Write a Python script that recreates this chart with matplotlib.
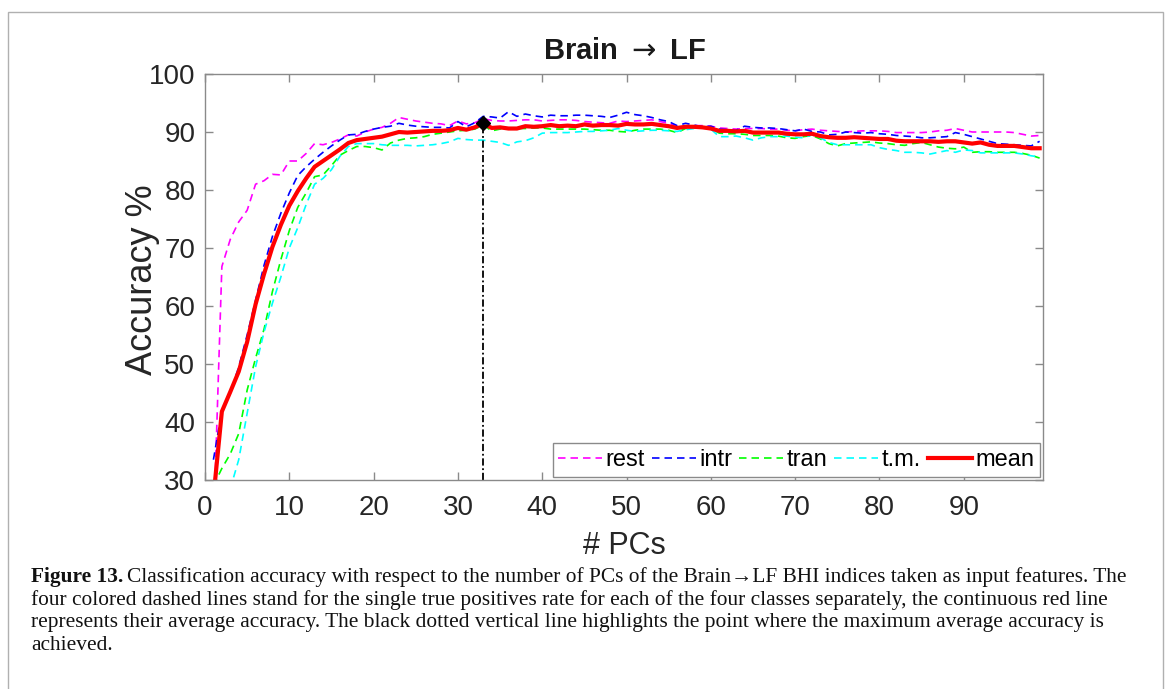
import numpy as np
import matplotlib
matplotlib.use("Agg")
import matplotlib.pyplot as plt
from matplotlib.patches import Rectangle

pcs = list(range(1, 100))

rest = [21.0, 66.8, 71.5, 74.5, 76.5, 81.0, 81.6, 82.7, 82.6, 85.0,
        85.0, 86.3, 88.0, 87.8, 88.2, 88.8, 89.5, 89.3, 90.0, 90.5,
        90.8, 91.5, 92.5, 92.2, 91.9, 91.7, 91.5, 91.4, 91.1, 91.9,
        91.4, 91.6, 92.3, 92.0, 91.9, 91.9, 92.0, 92.1, 92.1, 91.9,
        92.0, 92.1, 92.1, 92.0, 91.8, 91.7, 91.6, 91.5, 91.9, 91.8,
        91.9, 92.0, 92.1, 91.8, 91.5, 90.9, 91.0, 91.1, 91.1, 91.0,
        90.7, 90.6, 90.5, 90.6, 90.6, 90.6, 90.5, 90.5, 90.3, 90.2,
        90.4, 90.5, 90.3, 90.2, 90.1, 90.0, 90.1, 90.2, 90.2, 90.2,
        90.1, 89.9, 89.9, 89.9, 89.9, 90.0, 90.2, 90.3, 90.6, 90.3,
        90.0, 90.0, 90.0, 90.0, 90.0, 89.9, 89.6, 89.3, 89.4]

intr = [33.5, 42.0, 45.0, 49.5, 55.0, 61.0, 67.0, 72.0, 76.0, 79.5,
        82.5, 84.0, 85.3, 86.5, 87.6, 88.6, 89.5, 89.6, 90.1, 90.5,
        90.8, 91.0, 91.5, 91.2, 91.0, 90.9, 90.8, 90.8, 90.7, 91.8,
        90.9, 91.6, 92.7, 92.6, 92.4, 93.5, 92.7, 93.1, 92.8, 92.6,
        92.9, 92.8, 92.8, 92.9, 92.9, 92.8, 92.7, 92.5, 92.9, 93.4,
        93.0, 92.8, 92.5, 92.1, 91.8, 91.1, 91.5, 91.2, 90.9, 91.0,
        90.5, 90.4, 90.3, 91.0, 90.8, 90.7, 90.7, 90.6, 90.4, 90.2,
        90.5, 90.1, 90.0, 89.5, 89.6, 90.0, 89.9, 89.8, 89.9, 89.7,
        89.6, 89.4, 89.3, 89.2, 89.0, 89.0, 89.1, 89.2, 89.9, 89.6,
        89.2, 88.8, 88.4, 88.0, 87.9, 87.8, 87.7, 87.6, 88.4]

tran = [29.0, 32.0, 34.5, 38.0, 45.5, 51.0, 56.0, 62.5, 68.0, 73.0,
        77.0, 79.5, 82.3, 82.6, 84.2, 86.0, 86.8, 87.5, 87.5, 87.3,
        86.9, 88.1, 88.6, 88.9, 89.0, 89.2, 89.6, 89.8, 90.0, 90.2,
        90.3, 90.5, 91.2, 90.2, 90.5, 90.7, 90.6, 90.6, 90.7, 90.7,
        90.5, 90.5, 90.5, 90.5, 90.5, 90.4, 90.3, 90.3, 90.1, 90.0,
        90.3, 90.5, 90.5, 90.5, 90.3, 89.9, 90.6, 90.7, 90.7, 90.6,
        89.8, 89.7, 89.7, 89.6, 89.4, 89.4, 89.4, 89.3, 89.0, 88.9,
        89.2, 89.4, 88.8, 88.0, 87.6, 88.0, 88.1, 88.2, 88.3, 88.1,
        88.0, 87.8, 87.7, 88.0, 88.2, 87.8, 87.4, 87.2, 87.1, 87.4,
        86.5, 86.6, 86.6, 86.5, 86.5, 86.5, 86.3, 86.0, 85.5]

tm = [18.0, 23.0, 28.5, 33.5, 41.5, 49.5, 55.5, 60.5, 65.0, 70.0,
      73.5, 77.5, 81.0, 82.0, 83.5, 85.8, 87.5, 88.0, 88.0, 88.0,
      87.8, 87.7, 87.7, 87.7, 87.6, 87.7, 87.8, 88.0, 88.3, 88.9,
      88.7, 88.6, 88.6, 88.4, 88.2, 87.7, 88.3, 88.5, 89.0, 89.8,
      89.9, 89.9, 89.9, 90.0, 90.1, 90.1, 90.2, 90.3, 90.6, 90.3,
      90.1, 90.2, 90.3, 90.3, 90.2, 90.1, 90.4, 90.6, 90.7, 90.5,
      89.2, 89.2, 89.3, 89.0, 88.6, 89.0, 89.2, 89.2, 89.3, 89.1,
      89.0, 89.5, 89.0, 88.2, 87.8, 87.8, 87.8, 87.8, 87.8, 87.3,
      87.0, 86.8, 86.5, 86.5, 86.4, 86.2, 86.5, 86.8, 86.5, 86.9,
      86.8, 86.4, 86.4, 86.4, 86.4, 86.4, 86.2, 85.9, 85.7]

mean = [27.0, 41.8, 45.2, 48.7, 53.8, 60.3, 65.5, 70.2, 74.0, 77.3,
        79.8, 82.0, 84.0, 85.0, 86.0, 87.0, 88.1, 88.6, 88.8, 89.0,
        89.2, 89.6, 90.0, 89.9, 90.0, 90.1, 90.2, 90.2, 90.3, 90.7,
        90.4, 90.8, 91.5, 90.7, 90.8, 90.6, 90.6, 91.0, 90.9, 91.0,
        91.2, 91.0, 91.1, 91.0, 91.3, 91.1, 91.2, 91.2, 91.1, 91.4,
        91.3, 91.3, 91.4, 91.2, 91.0, 90.7, 90.9, 90.9, 90.8, 90.6,
        90.2, 90.2, 90.1, 90.2, 89.9, 89.9, 89.9, 89.9, 89.7, 89.6,
        89.6, 89.7, 89.3, 89.1, 89.0, 89.0, 89.1, 89.0, 88.9, 88.8,
        88.8, 88.5, 88.4, 88.4, 88.4, 88.4, 88.3, 88.4, 88.4, 88.2,
        88.0, 88.2, 87.8, 87.6, 87.6, 87.6, 87.4, 87.2, 87.2]

series_labels = ["rest", "intr", "tran", "t.m.", "mean"]
series_colors = ["#FF00FF", "#0000FF", "#00FF00", "#00FFFF", "#FF0000"]
x_ticks = [0, 10, 20, 30, 40, 50, 60, 70, 80, 90]
y_ticks = [30, 40, 50, 60, 70, 80, 90, 100]

W, H = 1171, 689
fig = plt.figure(figsize=(W / 100, H / 100), dpi=100)
ax = fig.add_axes([205 / W, 1 - 480 / H, (1043 - 205) / W, (480 - 74) / H])

for vals, lab, col in zip([rest, intr, tran, tm], series_labels[:4], series_colors[:4]):
    ax.plot(pcs, vals, linestyle=(0, (4.5, 3)), color=col, lw=1.2, label=lab)
ax.plot(pcs, mean, '-', color=series_colors[4], lw=3.0, label=series_labels[4])

best = int(np.argmax(mean))
ax.plot([pcs[best], pcs[best]], [30, mean[best]], color='black', lw=1.3,
        linestyle=(0, (4, 1.5, 1, 1.5)))
ax.plot(pcs[best], mean[best], marker='D', color='black', ms=7)

ax.set_xlim(0, 99.4)
ax.set_ylim(30, 100)
ax.set_xticks(x_ticks)
ax.set_yticks(y_ticks)

gray = '#8a8a8a'
for s in ax.spines.values():
    s.set_color(gray)
    s.set_linewidth(1.0)
ax.tick_params(direction='in', length=6, width=1.0, color=gray,
               top=True, right=True, labelsize=20, labelcolor='#262626')
ax.tick_params(axis='x', pad=11)
ax.tick_params(axis='y', pad=7)
for lab in ax.get_xticklabels() + ax.get_yticklabels():
    lab.set_fontfamily('Liberation Sans')

ax.set_xlabel('# PCs', fontsize=22, family='Liberation Sans', color='#262626', labelpad=7)
ax.set_ylabel('Accuracy %', fontsize=26, family='Liberation Sans', color='#262626')
ax.yaxis.label.set_verticalalignment('center')
ax.yaxis.set_label_coords((143 - 205) / 838, 0.493)
ax.set_title(r'Brain $\rightarrow$ LF', fontsize=21, fontweight='bold',
             family='Liberation Sans', color='#1a1a1a', pad=11)

leg = ax.legend(loc='lower right', ncol=5, frameon=True, fancybox=False,
                handlelength=1.85, handletextpad=0.15, columnspacing=0.3,
                borderpad=0.25, borderaxespad=0.12, prop={'family': 'Liberation Sans', 'size': 17})
leg.get_frame().set_edgecolor(gray)
leg.get_frame().set_linewidth(1.0)
leg.get_frame().set_alpha(1.0)

# figure border
fig.add_artist(Rectangle((8 / W, -0.05), (1163 - 8) / W, (689 - 12) / H + 0.05,
                         transform=fig.transFigure, fill=False, ec='#b0b0b0', lw=1.0))

# caption
cap_lines = [
    "Classification accuracy with respect to the number of PCs of the Brain\u2192LF BHI indices taken as input features. The",
    "four colored dashed lines stand for the single true positives rate for each of the four classes separately, the continuous red line",
    "represents their average accuracy. The black dotted vertical line highlights the point where the maximum average accuracy is",
    "achieved.",
]
cap_y = [577, 600, 623, 645]
cap_fs = 15.4
cap_family = ['Liberation Serif', 'DejaVu Serif']
fig.canvas.draw()
r = fig.canvas.get_renderer()
tb = fig.text(31 / W, 1 - cap_y[0] / H, "Figure 13.", fontweight='bold', family=cap_family,
              fontsize=cap_fs, va='center', ha='left', color='#111111')
bb = tb.get_window_extent(renderer=r)
fig.text((bb.x1 + 4) / W, 1 - cap_y[0] / H, cap_lines[0], family=cap_family,
         fontsize=cap_fs, va='center', ha='left', color='#111111')
for line, yy in zip(cap_lines[1:], cap_y[1:]):
    fig.text(31 / W, 1 - yy / H, line, family=cap_family,
             fontsize=cap_fs, va='center', ha='left', color='#111111')

fig.savefig('out.png', dpi=100)
